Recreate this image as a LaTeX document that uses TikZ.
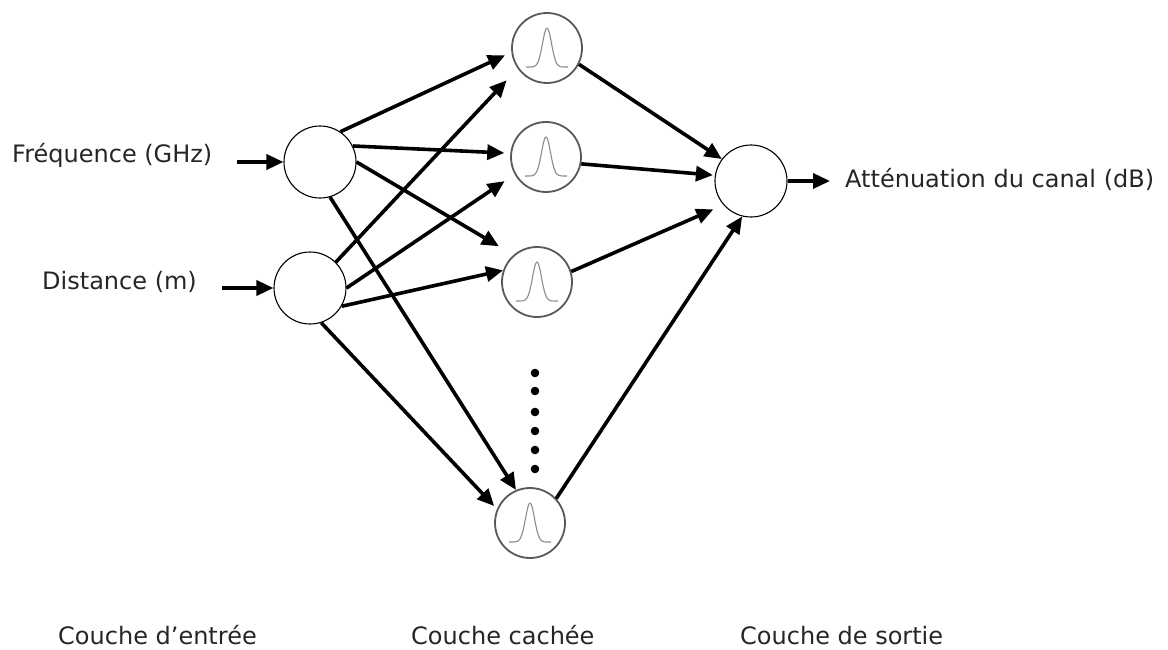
\documentclass[tikz,border=0pt]{standalone}
\usepackage{fontspec}
\setmainfont{DejaVu Sans}
\usetikzlibrary{arrows.meta}
\begin{document}
\begin{tikzpicture}[x=1pt,y=-1pt,
  io/.style={circle,draw=black,line width=1.1pt,fill=white,minimum size=72pt,inner sep=0pt},
  hid/.style={circle,draw=black!65,line width=1.8pt,fill=white,minimum size=70pt,inner sep=0pt},
  conn/.style={line width=3.6pt,-{Triangle[length=17pt,width=15pt]}},
  lab/.style={font=\fontsize{24}{29}\selectfont,text=black!85,inner sep=0pt,anchor=base west},
  bell/.style={draw=black!45,line width=1.1pt},
  dot/.style={fill=black}]
\useasboundingbox (0,0) rectangle (1168,650);

% nodes
\node[io]  (I1) at (320,162) {};
\node[io]  (I2) at (310,288) {};
\node[hid] (H1) at (547,48)  {};
\node[hid] (H2) at (546,157) {};
\node[hid] (H3) at (537,282) {};
\node[hid] (H4) at (530,523) {};
\node[io]  (O)  at (751,181) {};

% gaussian curves
\foreach \n in {H1,H2,H3,H4}{
  \draw[bell,shift={(\n)}] plot[domain=-21:21,samples=80,smooth] (\x,{19-39*exp(0-(\x)*(\x)/40)});
}

% dots
\foreach \yy in {373,391,412,431,450,469}{
  \fill[dot] (535,\yy) circle (4.3pt);
}

% labels
\node[lab] (tf) at (12,163) {Fréquence (GHz)};
\node[lab] (td) at (42,289) {Distance (m)};
\node[lab] (ta) at (845,187) {Atténuation du canal (dB)};
\node[lab] (c1) at (58,644) {Couche d’entrée};
\node[lab] (c2) at (411,644) {Couche cachée};
\node[lab] (c3) at (740,644) {Couche de sortie};

% input / output arrows
\coordinate (fin) at (237,162);
\coordinate (din) at (222,288);
\coordinate (oout) at (830,181);
\draw[conn] (fin) -- (I1.west);
\draw[conn] (din) -- (I2.west);
\draw[conn] (O.east) -- (oout);

% input -> hidden
\draw[conn, shorten >=7pt]  (I1.56)  -- (H1.187);
\draw[conn, shorten >=6pt]  (I1.26)  -- (H2.174);
\draw[conn, shorten >=17pt] (I1.0)   -- (H3.131);
\draw[conn]                 (I1.-74) -- (H4.113);
\draw[conn, shorten >=16pt] (I2.45)  -- (H1.215);
\draw[conn, shorten >=12pt] (I2.0)   -- (H2.209);
\draw[conn]                 (I2.-30) -- (H3.161);
\draw[conn, shorten >=4pt]  (I2.-72) -- (H4.157);

% hidden -> output
\draw[conn]                 (H1.-27) -- (O.143);
\draw[conn, shorten >=2pt]  (H2.-11) -- (O.171);
\draw[conn, shorten >=11pt] (H3.17)  -- (O.221);
\draw[conn]                 (H4.43)  -- (O.256);
\end{tikzpicture}
\end{document}
